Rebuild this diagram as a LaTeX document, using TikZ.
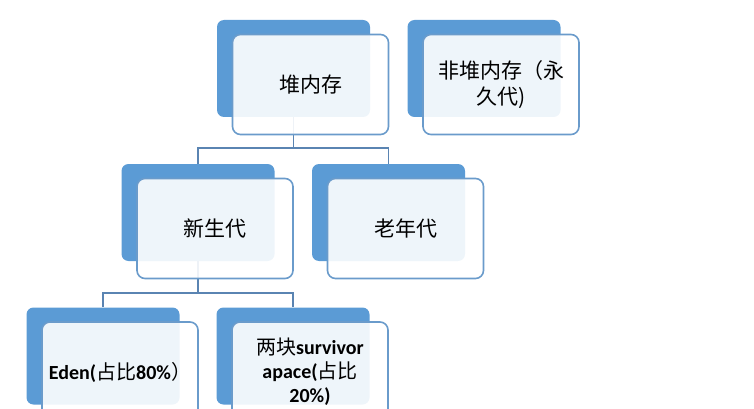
\documentclass[tikz,border=0pt]{standalone}
\usepackage{fontspec}
\setmainfont{Carlito}
\newfontfamily\cjk{Noto Sans CJK SC}
\definecolor{fondbleu}{HTML}{5B9BD5}
\definecolor{bordbleu}{HTML}{6A9BCB}
\definecolor{traitbleu}{HTML}{5A84B2}
\tikzset{
    arriere/.style={rectangle,rounded corners=7pt,fill=fondbleu,inner sep=0pt,
      minimum width=153pt,minimum height=97pt},
    avant/.style={rectangle,rounded corners=8pt,draw=bordbleu,line width=1.6pt,
      fill=white,fill opacity=0.9,text opacity=1,inner sep=0pt,
      minimum width=156pt,minimum height=100pt,align=center,
      font=\fontsize{20}{24}\selectfont\bfseries},
    lien/.style={draw=traitbleu,line width=1.6pt},
  }
\begin{document}
\begin{tikzpicture}[x=1pt,y=-1pt]
  \useasboundingbox (0,0) rectangle (754,409);
  \clip (0,0) rectangle (754,409);
  %FONDS
  \node[arriere] (heap) at (293.5,68.5) {};
  \node[arriere] (nonheap) at (484,68.5) {};
  \node[arriere] (young) at (198,212.5) {};
  \node[arriere] (old) at (388.5,212.5) {};
  \node[arriere] (eden) at (103,356) {};
  \node[arriere] (survivor) at (293,356) {};
  %LIENS
  \draw[lien] (heap.south) -- ++(0,31) -| (young.north);
  \draw[lien] (heap.south) -- ++(0,31) -| (old.north);
  \draw[lien] (young.south) -- ++(0,32) -| (eden.north);
  \draw[lien] (young.south) -- ++(0,32) -| (survivor.north);
  %BOITES
  \node[avant,font=\fontsize{21}{26}\selectfont] (heapf) at ([shift={(17,16)}]heap.center) {\cjk 堆内存};
  \node[avant,font=\fontsize{21}{26}\selectfont] (nonheapf) at ([shift={(17,16)}]nonheap.center) {\cjk 非堆内存（永\\\cjk 久代)};
  \node[avant,font=\fontsize{21}{26}\selectfont] (youngf) at ([shift={(17,16)}]young.center) {\cjk 新生代};
  \node[avant,font=\fontsize{21}{26}\selectfont] (oldf) at ([shift={(17,16)}]old.center) {\cjk 老年代};
  \node[avant] (edenf) at ([shift={(17,16)}]eden.center) {Eden({\cjk\mdseries 占比}80\%{\cjk\mdseries ）}};
  \node[avant] (survivorf) at ([shift={(17,16)}]survivor.center) {{\cjk\mdseries 两块}survivor\\apace({\cjk\mdseries 占比}\\20\%)};
\end{tikzpicture}
\end{document}
